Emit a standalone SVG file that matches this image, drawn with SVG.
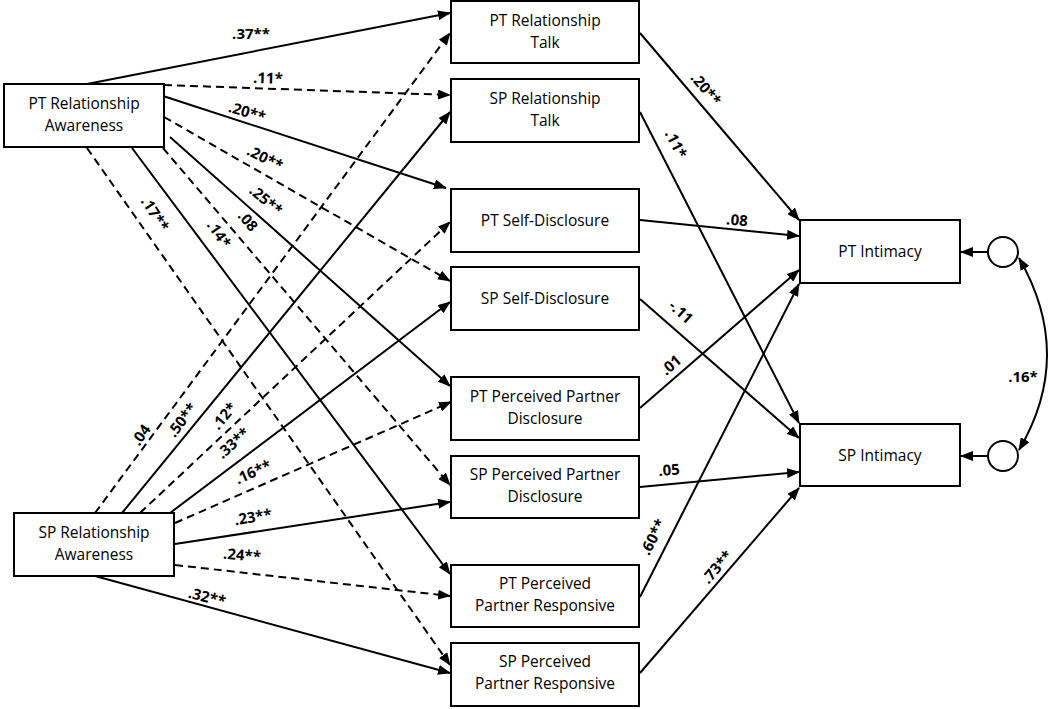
<svg xmlns="http://www.w3.org/2000/svg" width="1050" height="709" viewBox="0 0 1050 709">
<style>
.box{fill:#fff;stroke:#000;stroke-width:2}
.nt{font-family:"Open Sans","Liberation Sans",sans-serif;font-size:15.5px;fill:#000;text-anchor:middle}
.c{fill:none;stroke:#000;stroke-width:2;marker-end:url(#ah)}
.d{stroke-dasharray:8 5}
.lb{font-family:"Open Sans","Liberation Sans",sans-serif;font-size:15px;font-weight:bold;fill:#000;text-anchor:middle}
</style>
<defs>
<marker id="ah" markerUnits="userSpaceOnUse" markerWidth="13" markerHeight="10" refX="12" refY="5" orient="auto-start-reverse">
<path d="M0,0 L13,5 L0,10 z" fill="#000"/>
</marker>
</defs>
<rect width="1050" height="709" fill="#fff"/>
<g id="connectors">
<line class="c" x1="87" y1="84" x2="450" y2="13"/>
<line class="c d" x1="164" y1="85" x2="450" y2="95"/>
<line class="c" x1="160" y1="95" x2="446" y2="188"/>
<line class="c d" x1="164" y1="117" x2="450" y2="281"/>
<line class="c" x1="170" y1="137" x2="450" y2="386"/>
<line class="c d" x1="163" y1="148" x2="450" y2="485"/>
<line class="c" x1="132" y1="148" x2="450" y2="574"/>
<line class="c d" x1="87" y1="148" x2="450" y2="665"/>
<line class="c d" x1="95" y1="513" x2="450" y2="33"/>
<line class="c" x1="122" y1="513" x2="450" y2="112"/>
<line class="c d" x1="140" y1="513" x2="450" y2="222"/>
<line class="c" x1="170" y1="513" x2="450" y2="302"/>
<line class="c d" x1="175" y1="523" x2="451" y2="402"/>
<line class="c" x1="175" y1="544" x2="450" y2="502"/>
<line class="c d" x1="175" y1="565" x2="450" y2="596"/>
<line class="c" x1="95" y1="576" x2="450" y2="673"/>
<line class="c" x1="640" y1="33" x2="799" y2="220"/>
<line class="c" x1="640" y1="112" x2="799" y2="423"/>
<line class="c" x1="640" y1="220" x2="799" y2="236"/>
<line class="c" x1="640" y1="299" x2="799" y2="438"/>
<line class="c" x1="640" y1="408" x2="799" y2="270"/>
<line class="c" x1="640" y1="487" x2="799" y2="472"/>
<line class="c" x1="640" y1="597" x2="799" y2="284"/>
<line class="c" x1="640" y1="673" x2="799" y2="488"/>
<line class="c" x1="988" y1="252" x2="961" y2="252"/>
<line class="c" x1="988" y1="456" x2="961" y2="456"/>
<path class="c" d="M1019,258 Q1075,355 1019,450" style="marker-start:url(#ah)"/>
</g>
<g id="labels">
<text class="lb" x="251" y="34" dy=".35em">.37**</text>
<text class="lb" x="268" y="78" dy=".35em" transform="rotate(2 268 78)">.11*</text>
<text class="lb" x="247" y="112" dy=".35em" transform="rotate(17 247 112)">.20**</text>
<text class="lb" x="265" y="158" dy=".35em" transform="rotate(27 265 158)">.20**</text>
<text class="lb" x="266" y="200" dy=".35em" transform="rotate(40 266 200)">.25**</text>
<text class="lb" x="248" y="221" dy=".35em" transform="rotate(50 248 221)">.08</text>
<text class="lb" x="219" y="234" dy=".35em" transform="rotate(55 219 234)">.14*</text>
<text class="lb" x="155" y="214" dy=".35em" transform="rotate(57 155 214)">.17**</text>
<text class="lb" x="141" y="435" dy=".35em" transform="rotate(-55 141 435)">.04</text>
<text class="lb" x="182" y="420" dy=".35em" transform="rotate(-53 182 420)">.50**</text>
<text class="lb" x="224" y="416" dy=".35em" transform="rotate(-50 224 416)">.12*</text>
<text class="lb" x="233" y="443" dy=".35em" transform="rotate(-42 233 443)">.33**</text>
<text class="lb" x="253" y="472" dy=".35em" transform="rotate(-24 253 472)">.16**</text>
<text class="lb" x="253" y="517" dy=".35em" transform="rotate(-9 253 517)">.23**</text>
<text class="lb" x="242" y="555" dy=".35em" transform="rotate(5 242 555)">.24**</text>
<text class="lb" x="207" y="597" dy=".35em" transform="rotate(14 207 597)">.32**</text>
<text class="lb" x="706" y="89" dy=".35em" transform="rotate(50 706 89)">.20**</text>
<text class="lb" x="676" y="144" dy=".35em" transform="rotate(63 676 144)">.11*</text>
<text class="lb" x="737" y="220" dy=".35em" transform="rotate(5 737 220)">.08</text>
<text class="lb" x="681" y="312" dy=".35em" transform="rotate(42 681 312)">-.11</text>
<text class="lb" x="671" y="365" dy=".35em" transform="rotate(-41 671 365)">.01</text>
<text class="lb" x="669" y="470" dy=".35em" transform="rotate(-4 669 470)">.05</text>
<text class="lb" x="653" y="537" dy=".35em" transform="rotate(-63 653 537)">.60**</text>
<text class="lb" x="717" y="567" dy=".35em" transform="rotate(-49 717 567)">.73**</text>
<text class="lb" x="1023" y="377" dy=".35em">.16*</text>
</g>
<g id="pt-ra"><rect class="box" x="4" y="84" width="160" height="63"/><text class="nt" x="84" y="109">PT Relationship</text><text class="nt" x="84" y="131">Awareness</text></g>
<g id="sp-ra"><rect class="box" x="14" y="513" width="160" height="63"/><text class="nt" x="94" y="538">SP Relationship</text><text class="nt" x="94" y="560">Awareness</text></g>
<g id="pt-rt"><rect class="box" x="451" y="1" width="188" height="62"/><text class="nt" x="545" y="26">PT Relationship</text><text class="nt" x="545" y="48">Talk</text></g>
<g id="sp-rt"><rect class="box" x="451" y="79" width="188" height="63"/><text class="nt" x="545" y="104">SP Relationship</text><text class="nt" x="545" y="126">Talk</text></g>
<g id="pt-sd"><rect class="box" x="451" y="189" width="188" height="63"/><text class="nt" x="545" y="226">PT Self-Disclosure</text></g>
<g id="sp-sd"><rect class="box" x="451" y="267" width="188" height="63"/><text class="nt" x="545" y="304">SP Self-Disclosure</text></g>
<g id="pt-ppd"><rect class="box" x="451" y="377" width="188" height="63"/><text class="nt" x="545" y="402">PT Perceived Partner</text><text class="nt" x="545" y="424">Disclosure</text></g>
<g id="sp-ppd"><rect class="box" x="451" y="456" width="188" height="62"/><text class="nt" x="545" y="480">SP Perceived Partner</text><text class="nt" x="545" y="502">Disclosure</text></g>
<g id="pt-ppr"><rect class="box" x="451" y="565" width="188" height="62"/><text class="nt" x="545" y="589">PT Perceived</text><text class="nt" x="545" y="611">Partner Responsive</text></g>
<g id="sp-ppr"><rect class="box" x="451" y="643" width="188" height="63"/><text class="nt" x="545" y="667">SP Perceived</text><text class="nt" x="545" y="689">Partner Responsive</text></g>
<g id="pt-int"><rect class="box" x="800" y="220" width="160" height="63"/><text class="nt" x="880" y="257">PT Intimacy</text></g>
<g id="sp-int"><rect class="box" x="800" y="424" width="160" height="62"/><text class="nt" x="880" y="461">SP Intimacy</text></g>
<g id="e1"><circle cx="1003" cy="252" r="15" fill="#fff" stroke="#000" stroke-width="2"/></g>
<g id="e2"><circle cx="1003" cy="456" r="15" fill="#fff" stroke="#000" stroke-width="2"/></g>
</svg>
